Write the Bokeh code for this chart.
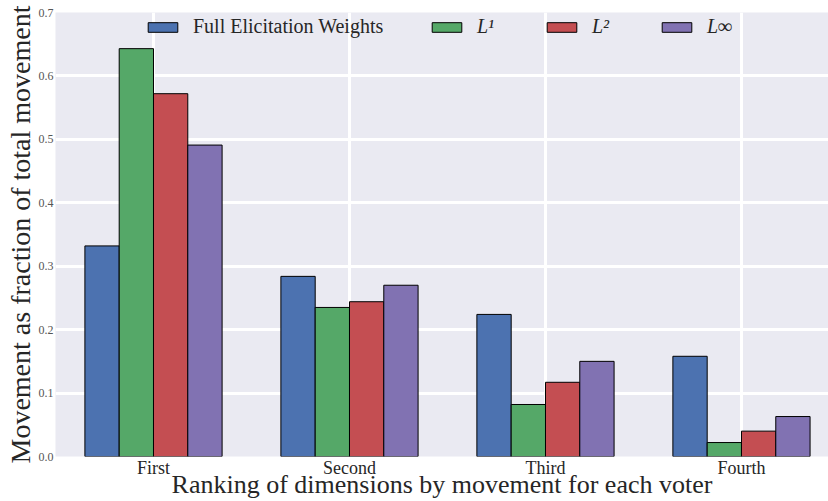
from bokeh.plotting import figure
from bokeh.models import ColumnDataSource, Legend, LegendItem, FixedTicker, Range1d
from bokeh.embed import file_html
from bokeh.resources import INLINE
from bokeh.transform import dodge

categories = ["First", "Second", "Third", "Fourth"]
series_names = ["Full Elicitation Weights", "L¹", "L²", "L∞"]
full_weights = [0.332, 0.284, 0.224, 0.158]
l1 = [0.643, 0.235, 0.082, 0.022]
l2 = [0.572, 0.244, 0.117, 0.040]
linf = [0.491, 0.270, 0.150, 0.063]
y_ticks = [0.0, 0.1, 0.2, 0.3, 0.4, 0.5, 0.6, 0.7]
x_title = "Ranking of dimensions by movement for each voter"
y_title = "Movement as fraction of total movement"

colors = ["#4C72B0", "#55A868", "#C44E52", "#8172B2"]

xpos = list(range(len(categories)))
src = ColumnDataSource(dict(x=xpos, s0=full_weights, s1=l1, s2=l2, s3=linf))

p = figure(width=828, height=501, output_backend="svg", toolbar_location=None,
           x_range=Range1d(-0.5, 3.444), y_range=Range1d(0, 0.7),
           min_border_left=55, min_border_right=0, min_border_top=12, min_border_bottom=43)
p.background_fill_color = "#EAEAF2"
p.border_fill_color = "white"
p.outline_line_color = None

bw = 0.175
offsets = [-1.5 * bw, -0.5 * bw, 0.5 * bw, 1.5 * bw]
renderers = []
for i in range(4):
    r = p.vbar(x=dodge("x", offsets[i]), top="s%d" % i, width=bw, source=src,
               fill_color=colors[i], line_color="black", line_width=1)
    renderers.append(r)

common = dict(orientation="horizontal", background_fill_alpha=0, border_line_color=None,
              glyph_width=37, glyph_height=12, label_standoff=12,
              padding=0, margin=0, label_text_font="Liberation Serif",
              label_text_font_size="20px", label_text_color="#262626")
legend_a = Legend(items=[LegendItem(label=series_names[0], renderers=[renderers[0]])],
                  location=(89, 418), **common)
legend_b = Legend(items=[LegendItem(label=series_names[i], renderers=[renderers[i]]) for i in range(1, 4)],
                  location=(373, 418), spacing=46, label_text_font_style="italic", **common)
p.add_layout(legend_a)
p.add_layout(legend_b)

# grid
p.xgrid.ticker = FixedTicker(ticks=xpos)
p.xgrid.grid_line_color = "white"
p.xgrid.grid_line_width = 3
p.ygrid.grid_line_color = "white"
p.ygrid.grid_line_width = 3

# axes
p.xaxis.ticker = FixedTicker(ticks=xpos)
p.xaxis.major_label_overrides = {i: c for i, c in enumerate(categories)}
p.yaxis.ticker = FixedTicker(ticks=y_ticks)
p.yaxis.major_label_overrides = {t: "%.1f" % t for t in y_ticks}
for ax in (p.xaxis[0], p.yaxis[0]):
    ax.axis_line_color = None
    ax.major_tick_line_color = None
    ax.minor_tick_line_color = None
    ax.major_tick_out = 0
    ax.major_tick_in = 0
    ax.minor_tick_out = 0
    ax.minor_tick_in = 0
    ax.axis_label_text_font = "Liberation Serif"
    ax.axis_label_text_font_style = "normal"
    ax.axis_label_text_color = "#262626"
    ax.major_label_text_font = "Liberation Serif"

p.xaxis.axis_label = x_title
p.yaxis.axis_label = y_title
p.xaxis.axis_label_text_font_size = "26px"
p.yaxis.axis_label_text_font_size = "28px"
p.xaxis.major_label_text_font_size = "18px"
p.xaxis.major_label_text_color = "#262626"
p.xaxis.major_label_standoff = 1
p.xaxis.axis_label_standoff = -11
p.yaxis.major_label_text_font_size = "12px"
p.yaxis.major_label_text_color = "#555555"
p.yaxis.major_label_standoff = 2
p.yaxis.axis_label_standoff = 0

open("out.html", "w").write(file_html(p, INLINE))
